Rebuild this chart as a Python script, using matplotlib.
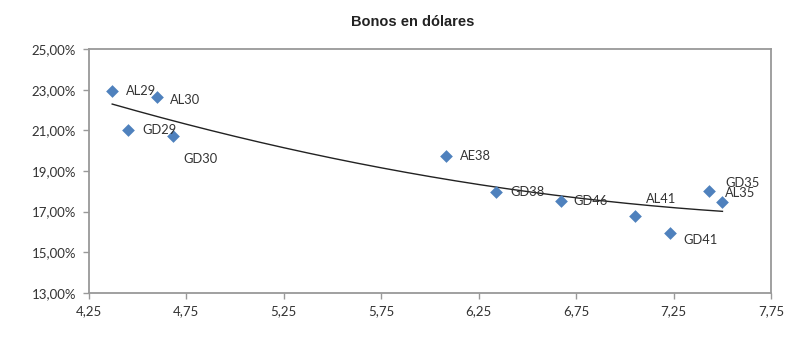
import matplotlib.pyplot as plt
from matplotlib.ticker import FuncFormatter
import numpy as np

plt.rcParams['font.family'] = ['Lato', 'DejaVu Sans']

bonos = ['AL29', 'AL30', 'GD29', 'GD30', 'AE38', 'GD38', 'GD46', 'AL41', 'GD41', 'GD35', 'AL35']
duration = [4.37, 4.60, 4.45, 4.68, 6.08, 6.34, 6.67, 7.05, 7.23, 7.43, 7.50]
tir = [22.93, 22.64, 21.02, 20.72, 19.74, 17.97, 17.52, 16.79, 15.95, 18.02, 17.47]

# label offsets in pixels (dx, dy)
offsets = [(14, 0), (13, -3), (15, 0), (11, -23), (14, 0), (14, 0),
           (13, 0), (11, 17), (14, -7), (17, 8), (2, 9)]

fig = plt.figure(figsize=(8, 3.41), dpi=100)
ax = fig.add_axes([0.111, 0.141, 0.853, 0.715])

x = np.array(duration)
y = np.array(tir)
coef = np.polyfit(x, y, 2)
xs = np.linspace(x.min(), x.max(), 200)
ax.plot(xs, np.polyval(coef, xs), color='#222222', lw=1.0, zorder=2)

ax.scatter(x, y, marker='D', s=42, color='#4F81BD', zorder=3, linewidths=0)

for name, xi, yi, (dx, dy) in zip(bonos, duration, tir, offsets):
    ax.annotate(name, (xi, yi), xytext=(dx, dy), textcoords='offset pixels',
                ha='left', va='center', fontsize=9.3, color='#333333', zorder=4)

ax.set_xlim(4.25, 7.75)
ax.set_ylim(13, 25)
ax.set_xticks(np.arange(4.25, 7.76, 0.5))
ax.set_yticks(np.arange(13, 25.1, 2))
ax.xaxis.set_major_formatter(FuncFormatter(lambda v, p: f'{v:.2f}'.replace('.', ',')))
ax.yaxis.set_major_formatter(FuncFormatter(lambda v, p: f'{v:.2f}'.replace('.', ',') + '%'))
ax.tick_params(axis='both', direction='out', length=4, width=1, color='#999999',
               labelsize=9.5, labelcolor='#333333', pad=5)
for s in ax.spines.values():
    s.set_color('#999999')
    s.set_linewidth(1.3)

fig.text(0.516, 0.935, 'Bonos en dólares', ha='center', va='center',
         fontsize=10.5, fontweight='bold', family='Liberation Sans', color='#222222')

fig.savefig('out.png', dpi=100)
